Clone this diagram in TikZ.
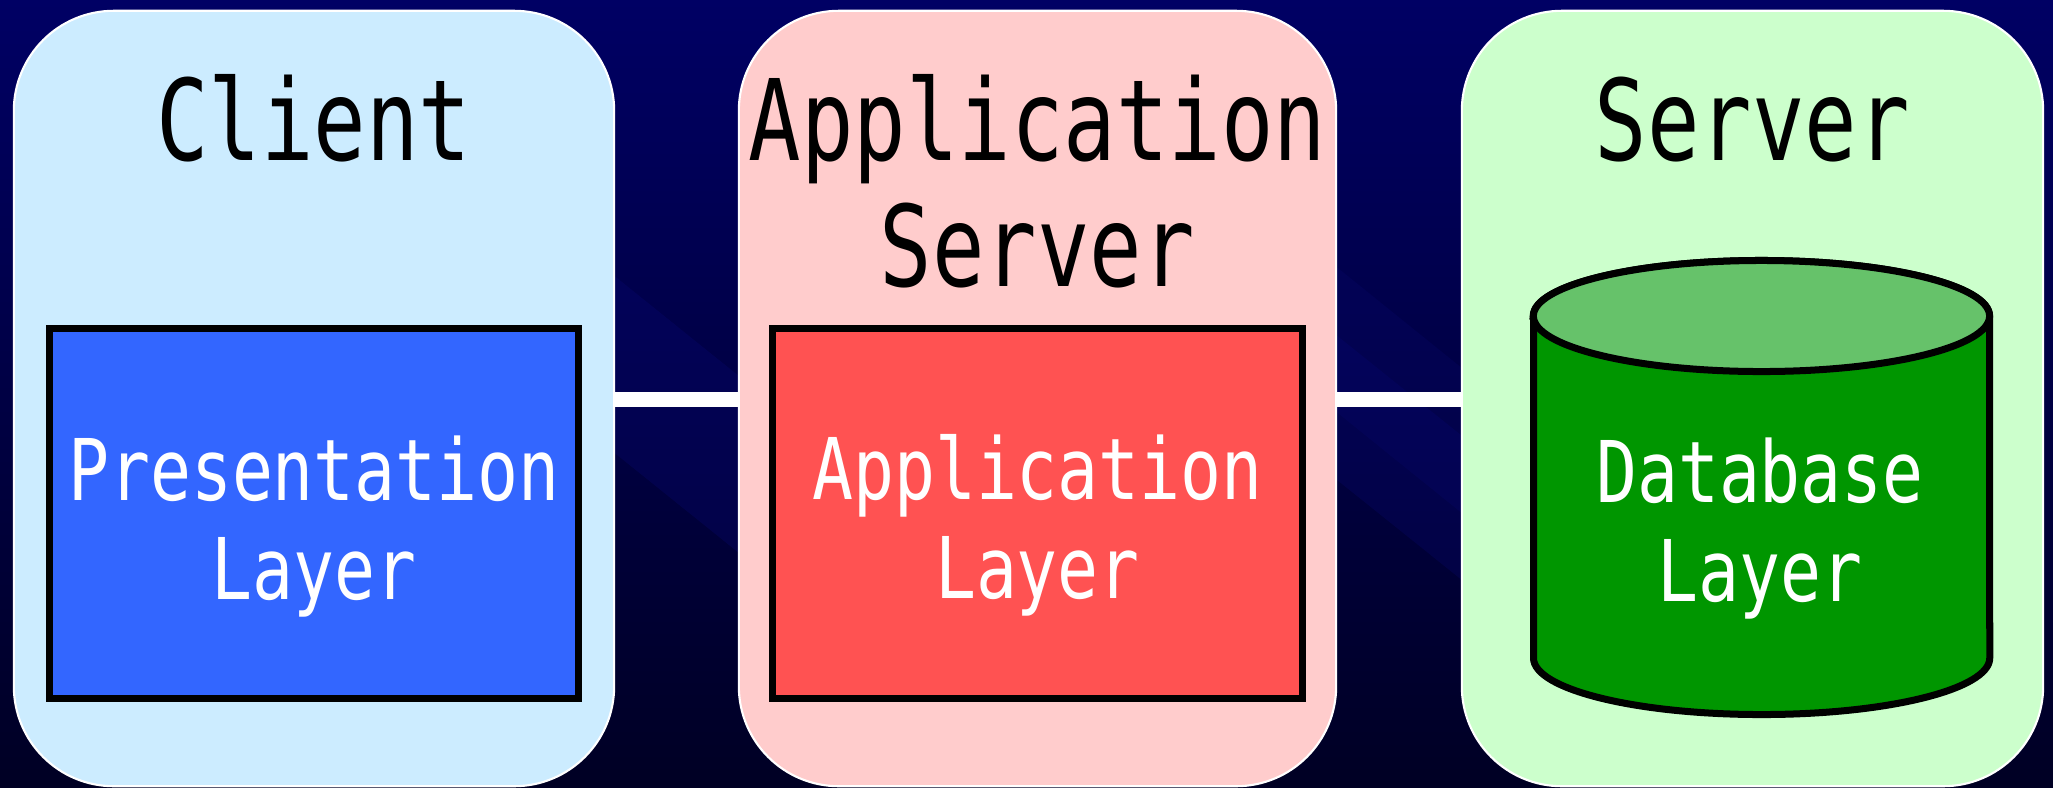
\documentclass[tikz,border=0pt]{standalone}
\usepackage{fontspec}
\newfontfamily\labelfont[FakeStretch=0.8]{DejaVu Sans Mono}
\newfontfamily\titlefont[FakeStretch=0.775]{DejaVu Sans Mono}
\definecolor{bgtop}{RGB}{0,0,100}
\definecolor{bgmid}{RGB}{0,0,82}
\definecolor{bgbot}{RGB}{0,0,36}
\definecolor{bandcol}{RGB}{10,10,120}
\definecolor{clientfill}{RGB}{204,236,255}
\definecolor{appfill}{RGB}{255,204,204}
\definecolor{serverfill}{RGB}{204,255,204}
\definecolor{presfill}{RGB}{51,102,255}
\definecolor{applayer}{RGB}{255,82,82}
\definecolor{dbbody}{RGB}{0,150,0}
\definecolor{dbtop}{RGB}{102,194,106}
\tikzset{
  tierbox/.style={draw=white, line width=0.6pt, rounded corners=1cm,
    minimum height=7.75cm, inner sep=0pt},
  layerbox/.style={draw=black, line width=0.07cm, minimum width=5.29cm,
    minimum height=3.70cm, inner sep=0pt},
  link/.style={draw=white, line width=0.15cm},
  titletext/.style={font=\titlefont\fontsize{32}{36.1}\selectfont,
    text=black, anchor=base, inner sep=0pt},
  layertext/.style={font=\labelfont\fontsize{24.2}{28.4}\selectfont,
    text=white, anchor=base, inner sep=0pt},
}
\begin{document}
\begin{tikzpicture}[x=0.01cm, y=-0.01cm]
  \useasboundingbox (0,0) rectangle (2053,787);
  % backdrop
  \shade[top color=bgtop, middle color=bgmid, bottom color=bgbot]
    (0,0) rectangle (2053,787);
  \fill[bandcol, opacity=0.28] (300,200) -- (520,200) -- (1250,787) -- (1030,787) -- cycle;
  \fill[bandcol, opacity=0.25] (1150,330) -- (1330,330) -- (1900,787) -- (1720,787) -- cycle;
  \fill[bandcol, opacity=0.2] (900,60) -- (1080,60) -- (1700,560) -- (1520,560) -- cycle;

  % tiers
  \node[tierbox, fill=clientfill, minimum width=6.00cm] (client) at (314,398.5) {};
  \node[tierbox, fill=appfill, minimum width=5.97cm] (appsrv) at (1037.5,398.5) {};
  \node[tierbox, fill=serverfill, minimum width=5.81cm] (dbsrv) at (1752.5,398.5) {};

  % links between tiers
  \coordinate (linky) at (0,399.5);
  \draw[link] (client.east |- linky) -- (appsrv.west |- linky);
  \draw[link] (appsrv.east |- linky) -- (dbsrv.west |- linky);

  % tier titles
  \node[titletext] (clienttitle) at (314,160) {Client};
  \node[titletext] (apptitle) at (1037.5,160)
    {\begin{tabular}[t]{@{}c@{}}Application\\Server\end{tabular}};
  \node[titletext] (servertitle) at (1752.5,160) {Server};

  % layers
  \node[layerbox, fill=presfill] (pres) at (314,513.5) {};
  \node[layerbox, fill=applayer] (appl) at (1037.5,513.5) {};

  % database cylinder
  \filldraw[fill=dbbody, draw=black, line width=0.07cm]
    (1533.5,316) -- (1533.5,658)
    arc[start angle=180, end angle=360, x radius=2.28cm, y radius=0.565cm]
    -- (1989.5,316)
    arc[start angle=0, end angle=180, x radius=2.28cm, y radius=0.555cm] -- cycle;
  \filldraw[fill=dbtop, draw=black, line width=0.07cm]
    (1761.5,316) ellipse [x radius=2.28cm, y radius=0.555cm];

  % layer labels
  \node[layertext] (prestext) at (pres.center |- 0,500)
    {\begin{tabular}[t]{@{}c@{}}Presentation\\Layer\end{tabular}};
  \node[layertext] (appltext) at (appl.center |- 0,499)
    {\begin{tabular}[t]{@{}c@{}}Application\\Layer\end{tabular}};
  \node[layertext] (dbtext) at (1760,502)
    {\begin{tabular}[t]{@{}c@{}}Database\\Layer\end{tabular}};
\end{tikzpicture}
\end{document}
